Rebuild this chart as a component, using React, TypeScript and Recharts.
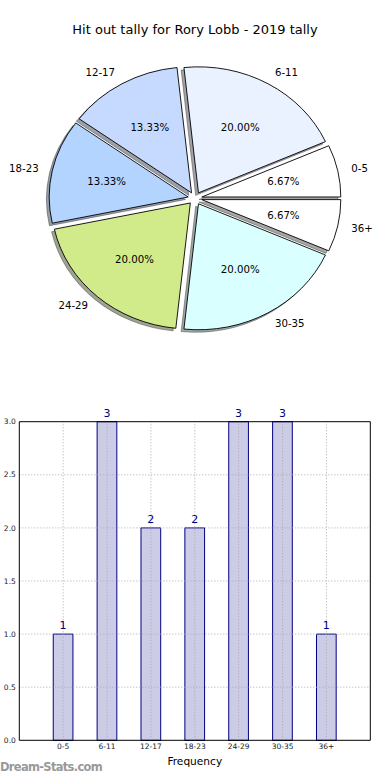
import React from 'react';
import { PieChart, Pie, Cell, BarChart, Bar, XAxis, YAxis, ReferenceLine, LabelList } from 'recharts';

const categories = ['0-5', '6-11', '12-17', '18-23', '24-29', '30-35', '36+'];
const counts = [1, 3, 2, 2, 3, 3, 1];
const pieColors = ['#ffffff', '#eaf1ff', '#c6d9ff', '#b3d4ff', '#d1eb8b', '#d9ffff', '#ffffff'];
const yTicks = [0, 0.5, 1, 1.5, 2, 2.5, 3];
const title = 'Hit out tally for Rory Lobb - 2019 tally';
const xLabel = 'Frequency';
const watermark = 'Dream-Stats.com';

const FONT = '"DejaVu Sans", Verdana, sans-serif';
const Y_RATIO = 126 / 139;
const EXPLODE = 0.05;
const SHADOW = 0.02;
const RAD = Math.PI / 180;

const pieData = categories.map((c, i) => ({ name: c, value: counts[i], fill: pieColors[i] }));
const barData = categories.map((c, i) => ({ name: c, value: counts[i] }));
const total = counts.reduce((a, b) => a + b, 0);

function darken(hex: string) {
  const h = hex.replace('#', '');
  const r = Math.round(parseInt(h.slice(0, 2), 16) * 0.3);
  const g = Math.round(parseInt(h.slice(2, 4), 16) * 0.3);
  const b = Math.round(parseInt(h.slice(4, 6), 16) * 0.3);
  return `rgb(${r},${g},${b})`;
}

function wedgePath(p: any, dxf: number, dyf: number) {
  const rx = p.outerRadius;
  const ry = p.outerRadius * Y_RATIO;
  const start = p.startAngle;
  const end = p.endAngle;
  const mid = ((start + end) / 2) * RAD;
  const ox = p.cx + EXPLODE * rx * Math.cos(mid) + dxf * rx;
  const oy = p.cy - EXPLODE * ry * Math.sin(mid) + dyf * ry;
  const x0 = ox + rx * Math.cos(start * RAD);
  const y0 = oy - ry * Math.sin(start * RAD);
  const x1 = ox + rx * Math.cos(end * RAD);
  const y1 = oy - ry * Math.sin(end * RAD);
  const large = Math.abs(end - start) > 180 ? 1 : 0;
  return `M${ox},${oy} L${x0},${y0} A${rx},${ry} 0 ${large} 0 ${x1},${y1} Z`;
}

const WedgeShape = (p: any) => (
  <path d={wedgePath(p, 0, 0)} fill={p.fill} stroke="#000" strokeWidth={0.9} strokeLinejoin="round" />
);

const ShadowShape = (p: any) => {
  const c = darken(pieColors[p.index] ?? '#ffffff');
  return (
    <path
      d={wedgePath(p, -SHADOW, SHADOW)}
      fill={c}
      fillOpacity={0.5}
      stroke={c}
      strokeOpacity={0.5}
      strokeWidth={1}
    />
  );
};

const renderPieLabel = (p: any) => {
  const idx = p.index;
  const rx = p.outerRadius;
  const ry = p.outerRadius * Y_RATIO;
  const mid = p.midAngle * RAD;
  const c = Math.cos(mid);
  const s = Math.sin(mid);
  const lx = p.cx + (1.1 + EXPLODE) * rx * c;
  const ly = p.cy - (1.1 + EXPLODE) * ry * s;
  const px = p.cx + (0.6 + EXPLODE) * rx * c;
  const py = p.cy - (0.6 + EXPLODE) * ry * s;
  const pct = ((counts[idx] / total) * 100).toFixed(2) + '%';
  return (
    <g>
      <text x={lx} y={ly} textAnchor={c > 0 ? 'start' : 'end'} dominantBaseline="central" fontSize={10.2} fontFamily={FONT} fill="#000">
        {categories[idx]}
      </text>
      <text x={px} y={py} textAnchor="middle" dominantBaseline="central" fontSize={10.2} fontFamily={FONT} fill="#000">
        {pct}
      </text>
    </g>
  );
};

export default function App() {
  return (
    <div style={{ position: 'absolute', left: 0, top: 0, width: 390, height: 780, background: '#fff', fontFamily: FONT }}>
      <div style={{ position: 'absolute', left: 0, top: 22, width: 390, textAlign: 'center', fontSize: 13, lineHeight: '16px', color: '#000' }}>
        {title}
      </div>
      <div style={{ position: 'absolute', left: 0, top: 0 }}>
        <PieChart width={390} height={390} margin={{ top: 0, right: 0, bottom: 0, left: 0 }}>
          <Pie
            data={pieData}
            dataKey="value"
            nameKey="name"
            cx={195}
            cy={198.3}
            outerRadius={139}
            startAngle={0}
            endAngle={360}
            isAnimationActive={false}
            shape={ShadowShape}
            activeShape={ShadowShape}
            inactiveShape={ShadowShape}
            stroke="none"
          >
            {pieData.map((d, i) => (
              <Cell key={'s' + i} fill={d.fill} />
            ))}
          </Pie>
          <Pie
            data={pieData}
            dataKey="value"
            nameKey="name"
            cx={195}
            cy={198.3}
            outerRadius={139}
            startAngle={0}
            endAngle={360}
            isAnimationActive={false}
            shape={WedgeShape}
            activeShape={WedgeShape}
            inactiveShape={WedgeShape}
            label={renderPieLabel}
            labelLine={false}
            stroke="#000"
          >
            {pieData.map((d, i) => (
              <Cell key={'w' + i} fill={d.fill} />
            ))}
          </Pie>
        </PieChart>
      </div>
      <div style={{ position: 'absolute', left: 0, top: 400 }}>
        <BarChart width={390} height={380} data={barData} margin={{ top: 21.7, right: 19.7, bottom: 0, left: 0 }}>
          <XAxis
            dataKey="name"
            type="category"
            padding={{ left: 21.94, right: 21.94 }}
            height={39.7}
            tickLine={false}
            tickSize={0}
            tickMargin={3.5}
            axisLine={{ stroke: '#000', strokeWidth: 1 }}
            tick={{ fontSize: 7.5, fontFamily: FONT, fill: '#222' }}
            interval={0}
            label={{ value: xLabel, position: 'insideBottom', offset: 15.5, fontSize: 10.6, fontFamily: FONT, fill: '#000' }}
          />
          <YAxis
            type="number"
            domain={[0, 3]}
            ticks={yTicks}
            width={19.3}
            tickLine={false}
            tickSize={0}
            tickMargin={3.5}
            axisLine={{ stroke: '#000', strokeWidth: 1 }}
            tickFormatter={(v: number) => v.toFixed(1)}
            tick={{ fontSize: 7.5, fontFamily: FONT, fill: '#222' }}
            interval={0}
          />
          <YAxis
            yAxisId="r"
            orientation="right"
            type="number"
            domain={[0, 3]}
            ticks={yTicks}
            width={19.7}
            tick={false}
            tickLine={{ stroke: '#000' }}
            tickSize={4}
            mirror
            axisLine={{ stroke: '#000', strokeWidth: 1 }}
          />
          <Bar dataKey="value" barSize={19.7} fill="#ccccE6" stroke="#000080" strokeWidth={1} isAnimationActive={false}>
            <LabelList dataKey="value" position="top" offset={5} fill="#000080" fontSize={11} fontFamily={FONT} />
          </Bar>
          {categories.map((c) => (
            <ReferenceLine key={'vx' + c} x={c} stroke="#aaaaaa" strokeDasharray="1 2" strokeWidth={1} />
          ))}
          {yTicks
            .filter((t) => t > 0 && t < 3)
            .map((t) => (
              <ReferenceLine key={'hy' + t} y={t} stroke="#aaaaaa" strokeDasharray="1 2" strokeWidth={1} />
            ))}
          <ReferenceLine y={3} stroke="#000" strokeWidth={1} />
        </BarChart>
      </div>
      <div style={{ position: 'absolute', left: 0, top: 760, fontSize: 11.5, lineHeight: '15px', color: '#999999', fontWeight: 'bold', letterSpacing: -0.7 }}>
        {watermark}
      </div>
    </div>
  );
}
